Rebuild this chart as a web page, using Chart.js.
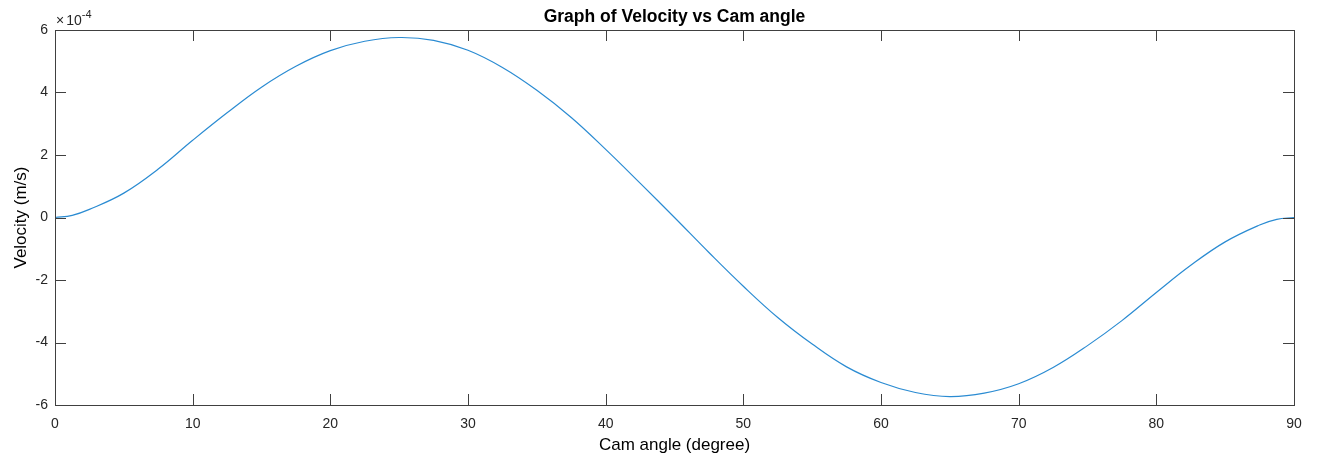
<!DOCTYPE html>
<html>
<head>
<meta charset="utf-8">
<script src="https://cdn.jsdelivr.net/npm/chart.js@4"></script>
<style>
  html, body { margin: 0; padding: 0; background: #fff; }
  #wrap { width: 1317px; height: 462px; }
</style>
</head>
<body>
<div id="wrap"><canvas id="chart"></canvas></div>
<script>
// cam angle in degrees
const camAngle = [0, 1.25, 2.5, 5, 7.5, 10, 12.5, 15, 17.5, 20, 22.5, 25, 27.5, 30, 32.5, 35, 37.5, 40, 42.5, 45,
                  47.5, 50, 52.5, 55, 57.5, 60, 62.5, 65, 67.5, 70, 72.5, 75, 77.5, 80, 82.5, 85, 87.5, 88.75, 90];
// velocity, in units of 1e-4 m/s
const velocity = [0, 0.07, 0.26, 0.78, 1.55, 2.47, 3.35, 4.17, 4.84, 5.34, 5.64, 5.76, 5.67, 5.35, 4.8, 4.07, 3.2, 2.18, 1.1, 0,
                  -1.12, -2.2, -3.2, -4.05, -4.78, -5.28, -5.6, -5.73, -5.62, -5.32, -4.8, -4.1, -3.3, -2.4, -1.53, -0.78, -0.24, -0.06, 0];

const xTicks = [0, 10, 20, 30, 40, 50, 60, 70, 80, 90];
const yTicks = [-6, -4, -2, 0, 2, 4, 6];

const FONT = '"Liberation Sans", Arial, Helvetica, sans-serif';
const AXIS_COL = '#404040';

// matlab style box, inward ticks, title and exponent label
const matlabBox = {
  id: 'matlabBox',
  afterDraw(chart) {
    const ctx = chart.ctx;
    const a = chart.chartArea;
    const xs = chart.scales.x, ys = chart.scales.y;
    const tl = 11;
    ctx.save();
    ctx.strokeStyle = AXIS_COL;
    ctx.lineWidth = 1;
    ctx.beginPath();
    xTicks.forEach(v => {
      const px = Math.round(xs.getPixelForValue(v)) + 0.5;
      ctx.moveTo(px, a.bottom); ctx.lineTo(px, a.bottom - tl);
      ctx.moveTo(px, a.top); ctx.lineTo(px, a.top + tl);
    });
    yTicks.forEach(v => {
      const py = Math.round(ys.getPixelForValue(v)) + 0.5;
      ctx.moveTo(a.left, py); ctx.lineTo(a.left + tl, py);
      ctx.moveTo(a.right, py); ctx.lineTo(a.right - tl, py);
    });
    ctx.stroke();
    ctx.strokeRect(Math.round(a.left) + 0.5, Math.round(a.top) + 0.5,
                   Math.round(a.right - a.left), Math.round(a.bottom - a.top));

    // title
    ctx.fillStyle = '#000';
    ctx.font = 'bold 17.5px ' + FONT;
    ctx.textAlign = 'center';
    ctx.textBaseline = 'alphabetic';
    ctx.fillText('Graph of Velocity vs Cam angle', (a.left + a.right) / 2, 22);

    // exponent
    ctx.fillStyle = '#262626';
    ctx.textAlign = 'left';
    ctx.font = '14px ' + FONT;
    ctx.fillText('\u00d7', a.left + 1, 25);
    const wx = ctx.measureText('\u00d7').width;
    ctx.fillText('10', a.left + 3 + wx, 25);
    const w10 = ctx.measureText('10').width;
    ctx.font = '11px ' + FONT;
    ctx.fillText('-4', a.left + 3 + wx + w10, 18);
    ctx.restore();
  }
};

new Chart(document.getElementById('chart'), {
  type: 'line',
  data: {
    datasets: [{
      data: camAngle.map((x, i) => ({ x: x, y: velocity[i] })),
      borderColor: '#2a8bd2',
      borderWidth: 1.2,
      pointRadius: 0,
      tension: 0.4,
      fill: false
    }]
  },
  options: {
    responsive: true,
    maintainAspectRatio: false,
    animation: false,
    layout: { padding: { left: 0, right: 23, top: 30, bottom: 0 } },
    plugins: {
      legend: { display: false },
      title: { display: false },
      tooltip: { enabled: false }
    },
    scales: {
      x: {
        type: 'linear',
        min: 0, max: 90,
        afterFit: s => { s.height = 57; },
        afterBuildTicks: s => { s.ticks = xTicks.map(v => ({ value: v })); },
        grid: { display: false, drawTicks: false },
        border: { display: false },
        ticks: { color: '#262626', padding: 11, font: { family: FONT, size: 14 } },
        title: { display: true, text: 'Cam angle (degree)', color: '#000',
                 padding: 6, font: { family: FONT, size: 17 } }
      },
      y: {
        type: 'linear',
        min: -6, max: 6,
        afterFit: s => { s.width = 55; },
        afterBuildTicks: s => { s.ticks = yTicks.map(v => ({ value: v })); },
        grid: { display: false, drawTicks: false },
        border: { display: false },
        ticks: { color: '#262626', padding: 7, font: { family: FONT, size: 14 } },
        title: { display: true, text: 'Velocity (m/s)', color: '#000',
                 padding: 11, font: { family: FONT, size: 17 } }
      }
    }
  },
  plugins: [matlabBox]
});
</script>
</body>
</html>
